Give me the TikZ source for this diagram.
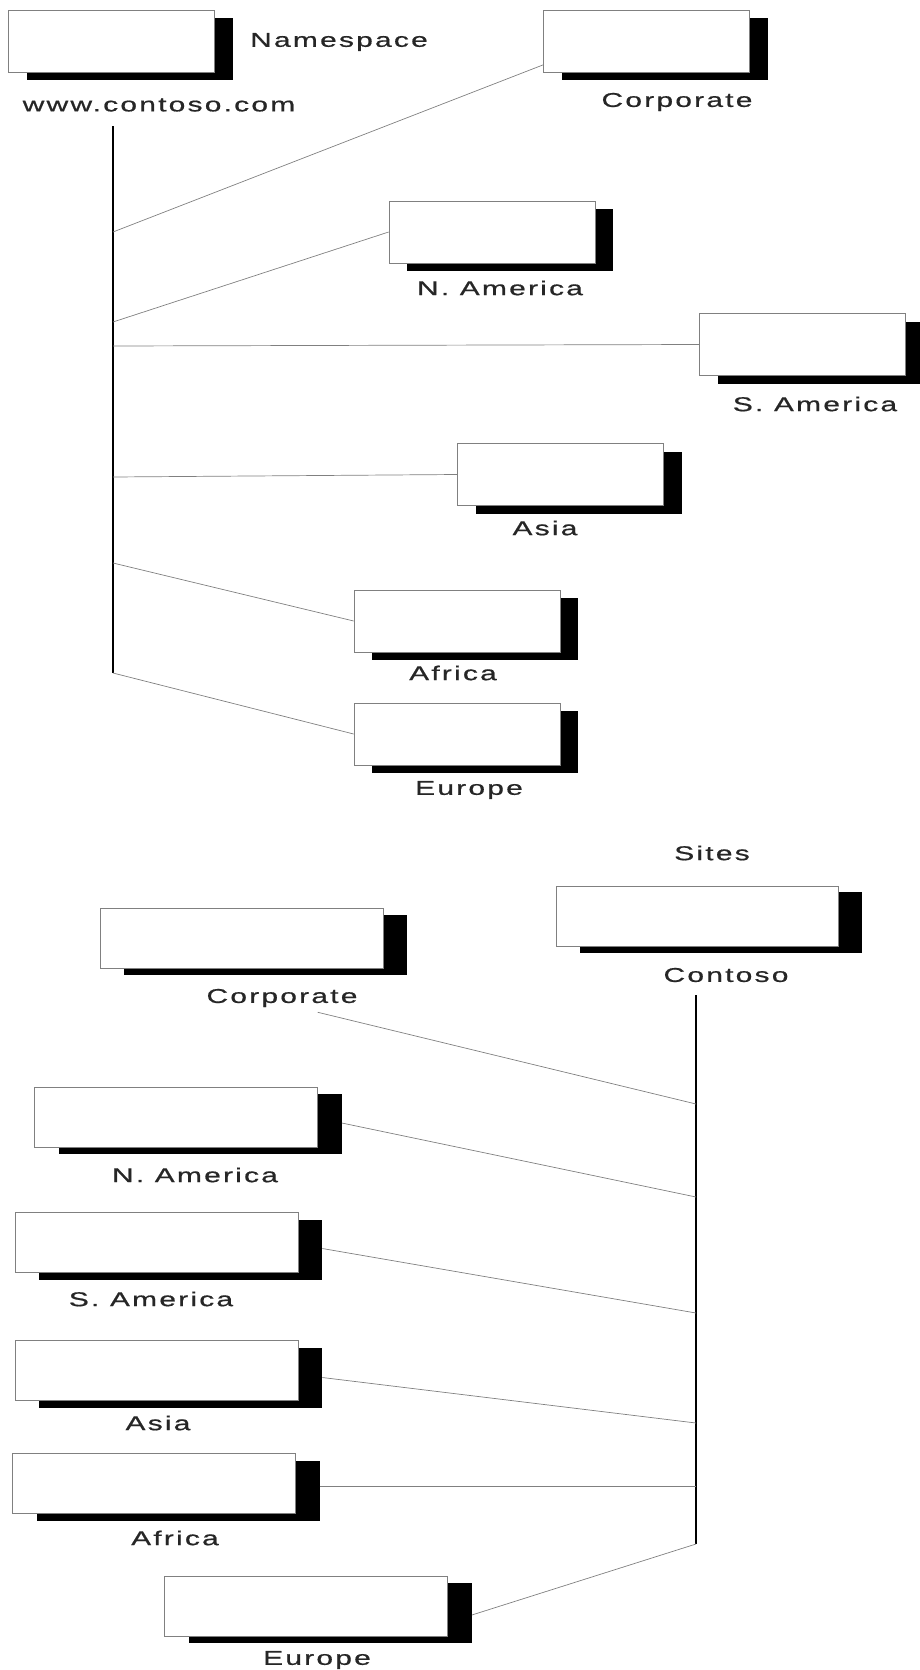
\documentclass[tikz,border=0pt]{standalone}
\usepackage{fontspec}
\setmainfont{Liberation Sans}[FakeStretch=1.5,LetterSpace=11,FakeBold=0.7]
\usetikzlibrary{positioning,shadows}
\tikzset{%
    box/.style = {draw=gray, fill=white, rectangle, line width=0.7pt, inner sep=0pt},
    tbox/.style = {box, minimum width=206pt, minimum height=62pt,
        drop shadow={shadow xshift=18pt, shadow yshift=-8pt, fill=black, opacity=1}},
    bbox/.style = {box, minimum width=283pt, minimum height=60pt,
        drop shadow={shadow xshift=24pt, shadow yshift=-7pt, fill=black, opacity=1}},
    lbl/.style = {font=\fontsize{20}{24}\selectfont, text=black!85, inner sep=0pt},
    link/.style = {draw=gray, line width=0.7pt},
    bus/.style = {draw=black, line width=1.3pt}
}

\begin{document}
\begin{tikzpicture}[x=1pt, y=-1pt]
    \useasboundingbox (0,0) rectangle (919,1670);
    % namespace
    \node [tbox] (ns) at (111.5,41) {};
    \node [lbl] (ns-title) at (339,42) {Namespace};
    \node [lbl] (ns-name) at (159,105) {www.contoso.com};
    \node [tbox] (tcorp) at (646.5,41) {};
    \node [lbl] at (677,102) {Corporate};
    \node [tbox] (tna) at (492,232) {};
    \node [lbl] at (500,288) {N. America};
    \node [tbox] (tsa) at (802.5,344.5) {};
    \node [lbl] at (815,404) {S. America};
    \node [tbox] (tasia) at (560.5,474.5) {};
    \node [lbl] at (545,528) {Asia};
    \node [tbox] (taf) at (457,621) {};
    \node [lbl] at (453,673) {Africa};
    \node [tbox] (teu) at (457,734) {};
    \node [lbl] at (469,790) {Europe};
    \coordinate (t0) at (113,126);
    \coordinate (t1) at (113,232);
    \coordinate (t2) at (113,322);
    \coordinate (t3) at (113,346);
    \coordinate (t4) at (113,477);
    \coordinate (t5) at (113,563);
    \coordinate (t6) at (113,673);
    \draw [bus] (t0) -- (t6);
    \draw [link] (t1) -- (tcorp.193);
    \draw [link] (t2) -- (tna.west);
    \draw [link] (t3) -- (tsa.west);
    \draw [link] (t4) -- (tasia.west);
    \draw [link] (t5) -- (taf.west);
    \draw [link] (t6) -- (teu.west);
    % sites
    \node [lbl] (st-title) at (712,853) {Sites};
    \node [bbox, minimum width=282pt, drop shadow={shadow xshift=24pt, shadow yshift=-6pt, fill=black, opacity=1}] (site) at (697,916) {};
    \node [lbl] (st-name) at (726,975) {Contoso};
    \node [bbox] (bcorp) at (241.5,938) {};
    \node [lbl] (bcorp-lbl) at (282,998) {Corporate};
    \node [bbox] (bna) at (176,1117) {};
    \node [lbl] at (195,1175) {N. America};
    \node [bbox] (bsa) at (156.5,1242.5) {};
    \node [lbl] at (151,1299) {S. America};
    \node [bbox] (basia) at (156.5,1370.5) {};
    \node [lbl] at (158,1423) {Asia};
    \node [bbox] (baf) at (154,1483.5) {};
    \node [lbl] at (175,1538) {Africa};
    \node [bbox] (beu) at (306,1606) {};
    \node [lbl] at (317,1660) {Europe};
    \coordinate (b0) at (696,995);
    \coordinate (b1) at (696,1104);
    \coordinate (b2) at (696,1197);
    \coordinate (b3) at (696,1313);
    \coordinate (b4) at (696,1423);
    \coordinate (b5) at (696,1486);
    \coordinate (b6) at (696,1544);
    \draw [bus] (b0) -- (b6);
    \draw [link] ([xshift=-40pt,yshift=-5pt]bcorp-lbl.south east) -- (b1);
    \draw [link] ([xshift=24pt,yshift=-6pt]bna.east) -- (b2);
    \draw [link] ([xshift=24pt,yshift=-6pt]bsa.east) -- (b3);
    \draw [link] ([xshift=24pt,yshift=-7pt]basia.east) -- (b4);
    \draw [link] ([xshift=24pt]b5 -| baf.east) -- (b5);
    \draw [link] ([xshift=24pt,yshift=-9pt]beu.east) -- (b6);
\end{tikzpicture}
\end{document}
